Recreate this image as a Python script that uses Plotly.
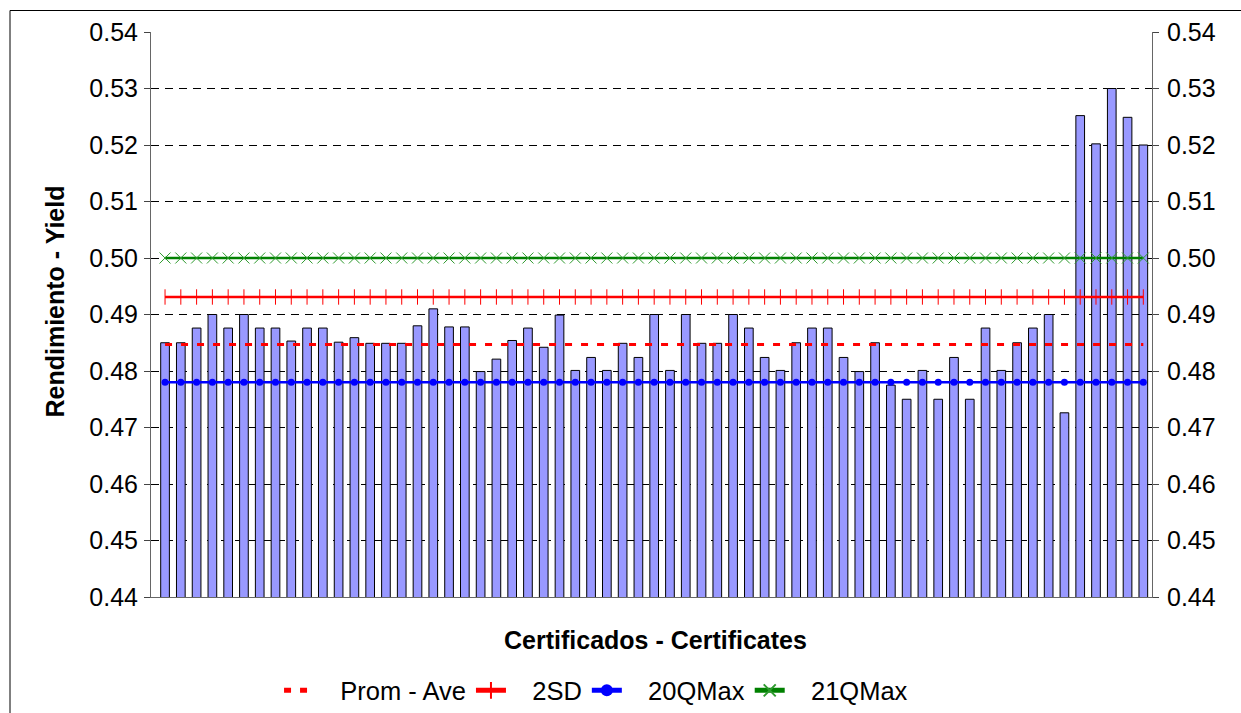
import plotly.graph_objects as go

# ---- data ----
certificates = list(range(1, 64))
yield_values = [
    0.4850, 0.4850, 0.4876, 0.4900, 0.4876, 0.4900, 0.4876, 0.4876, 0.4853, 0.4876,
    0.4876, 0.4851, 0.4859, 0.4849, 0.4849, 0.4849, 0.4880, 0.4910, 0.4878, 0.4878,
    0.4799, 0.4821, 0.4854, 0.4876, 0.4842, 0.4899, 0.4801, 0.4824, 0.4801, 0.4849,
    0.4824, 0.4900, 0.4801, 0.4900, 0.4849, 0.4849, 0.4900, 0.4876, 0.4824, 0.4801,
    0.4850, 0.4876, 0.4876, 0.4824, 0.4799, 0.4850, 0.4775, 0.4750, 0.4801, 0.4750,
    0.4824, 0.4750, 0.4876, 0.4801, 0.4850, 0.4876, 0.4900, 0.4726, 0.5252, 0.5202,
    0.5300, 0.5249, 0.5200,
]
prom_ave = 0.4847
two_sd = 0.4931
q20_max = 0.4780
q21_max = 0.5000
series_names = ["Prom - Ave", "2SD", "20QMax", "21QMax"]
y_ticks = [0.44, 0.45, 0.46, 0.47, 0.48, 0.49, 0.50, 0.51, 0.52, 0.53, 0.54]
y_tick_text = [f"{v:.2f}" for v in y_ticks]

FONT = "Liberation Sans, Arial, sans-serif"
n = len(certificates)
PAD = "\u00a0\u00a0\u00a0"

fig = go.Figure()
fig.add_trace(go.Bar(
    x=certificates, y=yield_values, width=0.55,
    marker=dict(color="#9999FF", line=dict(color="black", width=1)),
    showlegend=False, hoverinfo="y",
))
fig.add_trace(go.Scatter(
    x=certificates, y=[prom_ave] * n, mode="lines", name=PAD + series_names[0],
    line=dict(color="#FF0000", width=3, dash="7px,9px"),
))
fig.add_trace(go.Scatter(
    x=certificates, y=[two_sd] * n, mode="lines+markers", name=PAD + series_names[1],
    line=dict(color="#FF0000", width=2.5),
    marker=dict(symbol="line-ns", size=11, line=dict(color="#FF0000", width=1)),
))
fig.add_trace(go.Scatter(
    x=certificates, y=[q20_max] * n, mode="lines+markers", name=PAD + series_names[2],
    line=dict(color="#0000FF", width=2.5),
    marker=dict(symbol="circle", size=7, color="#0000FF"),
))
fig.add_trace(go.Scatter(
    x=certificates, y=[q21_max] * n, mode="lines+markers", name=PAD + series_names[3],
    line=dict(color="#008000", width=2.5),
    marker=dict(symbol="x-thin", size=11, line=dict(color="#2E9A2E", width=1)),
))
# invisible trace so the right axis is drawn
fig.add_trace(go.Scatter(
    x=[certificates[0]], y=[0.44], yaxis="y2", mode="markers",
    marker=dict(opacity=0), showlegend=False, hoverinfo="skip",
))

axis_common = dict(
    range=[0.44, 0.54], tickvals=y_ticks, ticktext=y_tick_text,
    ticks="outside", ticklen=6, tickcolor="#444", tickwidth=1,
    showline=True, linecolor="#666", linewidth=1,
    tickfont=dict(family=FONT, size=25, color="black"),
    zeroline=False, fixedrange=True, automargin=False,
)

fig.update_layout(
    width=1241, height=713,
    margin=dict(l=151, r=89, t=32, b=116, autoexpand=False),
    paper_bgcolor="white", plot_bgcolor="white",
    font=dict(family=FONT, color="black"),
    xaxis=dict(range=[0.11, 63.55], showticklabels=False, ticks="",
               showgrid=False, zeroline=False, showline=True,
               linecolor="#666", linewidth=1, automargin=False),
    yaxis=dict(**axis_common, showgrid=True, gridcolor="black",
               gridwidth=1, griddash="8px,6px", ticklabelstandoff=1),
    yaxis2=dict(**axis_common, overlaying="y", side="right",
                showgrid=False, ticklabelstandoff=3),
    legend=dict(orientation="h", x=0.4446, xanchor="center", y=-0.166,
                yanchor="middle", font=dict(family=FONT, size=25.5),
                itemsizing="constant", tracegroupgap=0),
    annotations=[
        dict(text="<b>Certificados - Certificates</b>", xref="paper", yref="paper",
             x=0.5036, y=-0.076, xanchor="center", yanchor="middle",
             showarrow=False, font=dict(family=FONT, size=25)),
        dict(text="<b>Rendimiento - Yield</b>", xref="paper", yref="paper",
             x=-0.0959, y=0.523, xanchor="center", yanchor="middle",
             textangle=-90, showarrow=False, font=dict(family=FONT, size=25)),
    ],
    shapes=[
        dict(type="rect", xref="paper", yref="paper",
             x0=(10 - 151) / 1001, x1=(1260 - 151) / 1001,
             y0=(597 - 730) / 565, y1=(597 - 10.5) / 565,
             line=dict(color="black", width=1), fillcolor="rgba(0,0,0,0)",
             layer="below"),
    ],
)

fig.write_html(
    "out.html",
    config={"displayModeBar": False},
    post_script="document.body.style.margin='0';document.body.style.overflow='hidden';",
)
